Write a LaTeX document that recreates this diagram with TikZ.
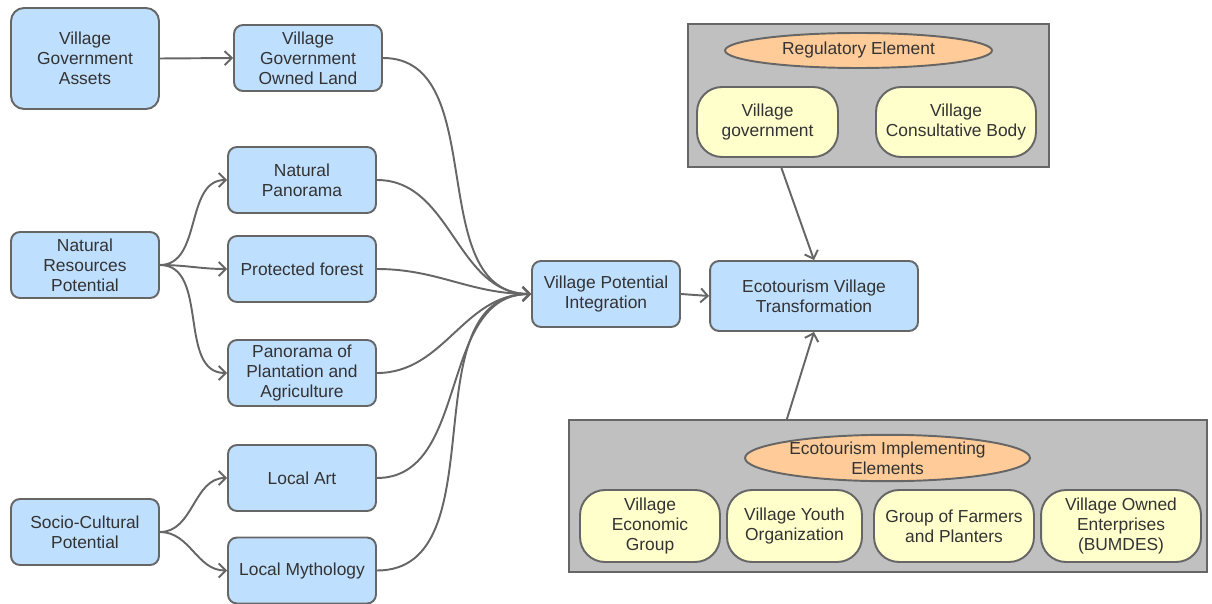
\documentclass[tikz,border=0pt]{standalone}
\usepackage{fontspec}
\setmainfont{Liberation Sans}
\usepackage{tikz}
\usetikzlibrary{arrows.meta,calc,shapes.geometric}
\usepackage{xcolor}
\definecolor{PotentialBlue}{HTML}{BFDFFF}
\definecolor{ElementOrange}{HTML}{FFCC99}
\definecolor{ActorYellow}{HTML}{FFFFCC}
\definecolor{GroupGray}{HTML}{C0C0C0}
\definecolor{EdgeGray}{HTML}{666666}
\definecolor{LabelGray}{HTML}{333333}

\begin{document}
\begin{tikzpicture}[x=0.02cm,y=-0.02cm,
    every node/.style={font=\fontsize{9.9}{11.4}\selectfont,text=LabelGray,align=center,inner sep=0pt},
    potbox/.style={draw=EdgeGray,fill=PotentialBlue,line width=1.1pt,rounded corners=0.18cm,minimum width=2.96cm,minimum height=1.32cm},
    groupbox/.style={draw=EdgeGray,fill=GroupGray,line width=1.1pt},
    roleell/.style={ellipse,draw=EdgeGray,fill=ElementOrange,line width=1.1pt},
    actorbox/.style={draw=EdgeGray,fill=ActorYellow,line width=1.1pt,rounded corners=0.5cm},
    conn/.style={draw=EdgeGray,line width=1.1pt,-{Straight Barb[length=4pt,width=8pt]}}]
    \useasboundingbox (0,0) rectangle (1212,604);
    % potentials
    \node[potbox,rounded corners=0.26cm,minimum height=2.02cm] (vga) at (85,58.5) {Village\\Government\\Assets};
    \node[potbox] (vgol) at (308,58) {Village\\Government\\Owned Land};
    \node[potbox] (nrp) at (85,265) {Natural\\Resources\\Potential};
    \node[potbox] (natpan) at (302,180) {Natural\\Panorama};
    \node[potbox] (forest) at (302,269) {Protected forest};
    \node[potbox] (plant) at (302,373) {Panorama of\\Plantation and\\Agriculture};
    \node[potbox] (scp) at (85,532) {Socio-Cultural\\Potential};
    \node[potbox] (art) at (302,478) {Local Art};
    \node[potbox] (myth) at (302,570.5) {Local Mythology};
    \node[potbox] (vpi) at (606,294) {Village Potential\\Integration};
    \node[potbox,minimum width=4.16cm,minimum height=1.4cm] (evt) at (814,296) {Ecotourism Village\\Transformation};
    % regulatory group
    \node[groupbox,minimum width=7.22cm,minimum height=2.86cm] (reg) at (868.5,95.5) {};
    \node[roleell,minimum width=5.34cm,minimum height=0.7cm] (regel) at (858.5,50.5) {Regulatory Element};
    \node[actorbox,minimum width=2.82cm,minimum height=1.4cm] (vgov) at (767.5,122) {Village\\government};
    \node[actorbox,minimum width=3.2cm,minimum height=1.4cm] (vcb) at (956,122) {Village\\Consultative Body};
    % implementing group
    \node[groupbox,minimum width=12.76cm,minimum height=3.04cm] (impl) at (888,496) {};
    \node[roleell,minimum width=5.7cm,minimum height=0.8cm] (implel) at (887.5,458) {Ecotourism Implementing\\Elements};
    \foreach \x/\w/\name/\txt in {650/2.8/econ/{Village\\Economic\\Group},794.5/2.7/youth/{Village Youth\\Organization},
        954/3.2/farm/{Group of Farmers\\and Planters},1121/3.2/bumdes/{Village Owned\\Enterprises\\(BUMDES)}} {
        \node[actorbox,minimum width=\w cm,minimum height=1.44cm] (\name) at (\x,526) {\txt};
    }
    % connectors
    \draw[conn] (vga.east) -- (vgol.west);
    \foreach \dst in {natpan,forest,plant} {
        \draw[conn] (nrp.east) to[out=0,in=180] (\dst.west);
    }
    \foreach \dst in {art,myth} {
        \draw[conn] (scp.east) to[out=0,in=180] (\dst.west);
    }
    \foreach \src in {vgol,natpan,forest,plant,art,myth} {
        \draw[conn] (\src.east) to[out=0,in=180] (vpi.west);
    }
    \draw[conn] (vpi.east) -- (evt.west);
    \draw[conn] ($(reg.south west)!0.26!(reg.south east)$) -- (evt.north);
    \draw[conn] ($(impl.north west)!0.342!(impl.north east)$) -- (evt.south);
\end{tikzpicture}
\end{document}
